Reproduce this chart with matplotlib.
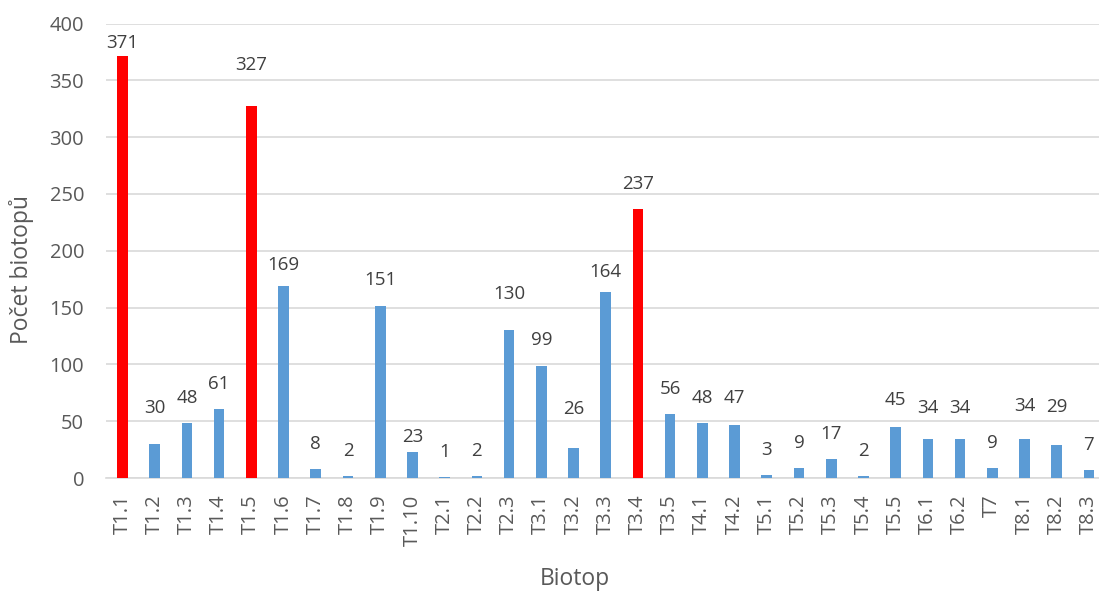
import matplotlib
matplotlib.use("Agg")
import matplotlib.pyplot as plt
import numpy as np

# Biotope codes and their counts
categories = ["T1.1", "T1.2", "T1.3", "T1.4", "T1.5", "T1.6", "T1.7", "T1.8", "T1.9", "T1.10",
              "T2.1", "T2.2", "T2.3", "T3.1", "T3.2", "T3.3", "T3.4", "T3.5", "T4.1", "T4.2",
              "T5.1", "T5.2", "T5.3", "T5.4", "T5.5", "T6.1", "T6.2", "T7", "T8.1", "T8.2", "T8.3"]
counts = [371, 30, 48, 61, 327, 169, 8, 2, 151, 23,
          1, 2, 130, 99, 26, 164, 237, 56, 48, 47,
          3, 9, 17, 2, 45, 34, 34, 9, 34, 29, 7]
highlighted = {"T1.1", "T1.5", "T3.4"}

y_ticks = [0, 50, 100, 150, 200, 250, 300, 350, 400]

# vertical distance (pixels) from bar top to the centre of its value label
label_lift = {0: 13, 1: 36, 4: 41, 5: 21, 8: 26, 9: 15, 12: 36, 13: 26, 14: 39,
              15: 20, 19: 27, 24: 27, 25: 31, 26: 31, 28: 33, 29: 38}

BLUE = "#5B9BD5"
RED = "#FF0000"
GRID = "#D9D9D9"
TICK_C = "#595959"
LABEL_C = "#404040"
FONT = "Open Sans"

plt.rcParams["font.family"] = [FONT, "DejaVu Sans"]

W, H = 1099, 591
AX_L, AX_R, AX_T, AX_B = 106.4, 1105.0, 23.5, 478.0

fig = plt.figure(figsize=(W / 100, H / 100), dpi=100)
ax = fig.add_axes([AX_L / W, 1 - AX_B / H, (AX_R - AX_L) / W, (AX_B - AX_T) / H])

x = np.arange(len(categories))
colors = [RED if c in highlighted else BLUE for c in categories]
bars = ax.bar(x, counts, width=0.33, color=colors, zorder=3)

for i, (b, v) in enumerate(zip(bars, counts)):
    lift = label_lift.get(i, 25)
    ax.annotate(str(v), (b.get_x() + b.get_width() / 2, v),
                xytext=(0, lift), textcoords="offset pixels",
                ha="center", va="center", fontsize=13.5, color=LABEL_C, zorder=4)

ax.set_xlim(-0.5, len(categories) - 0.5)
ax.set_ylim(0, 400)
ax.set_yticks(y_ticks)
ax.set_xticks(x)
ax.set_xticklabels(categories, rotation=90)

ax.yaxis.grid(True, color=GRID, linewidth=1.2, zorder=0)
ax.set_axisbelow(True)
for side in ["top", "right", "left"]:
    ax.spines[side].set_visible(False)
ax.spines["bottom"].set_color(GRID)
ax.spines["bottom"].set_linewidth(1.2)

ax.tick_params(axis="both", length=0, labelsize=14.5, labelcolor=TICK_C)
ax.tick_params(axis="y", pad=16)
ax.tick_params(axis="x", pad=12)

ax.set_ylabel("Počet biotopů", fontsize=16.5, color=TICK_C, va="center")
ax.set_xlabel("Biotop", fontsize=16.5, color=TICK_C, va="center")
# axis titles at fixed positions, expressed in axes fractions
ax.yaxis.set_label_coords((22 - AX_L) / (AX_R - AX_L), (AX_B - 269) / (AX_B - AX_T))
ax.xaxis.set_label_coords((575 - AX_L) / (AX_R - AX_L), -(579 - AX_B) / (AX_B - AX_T))

fig.savefig("out.png", dpi=100)
